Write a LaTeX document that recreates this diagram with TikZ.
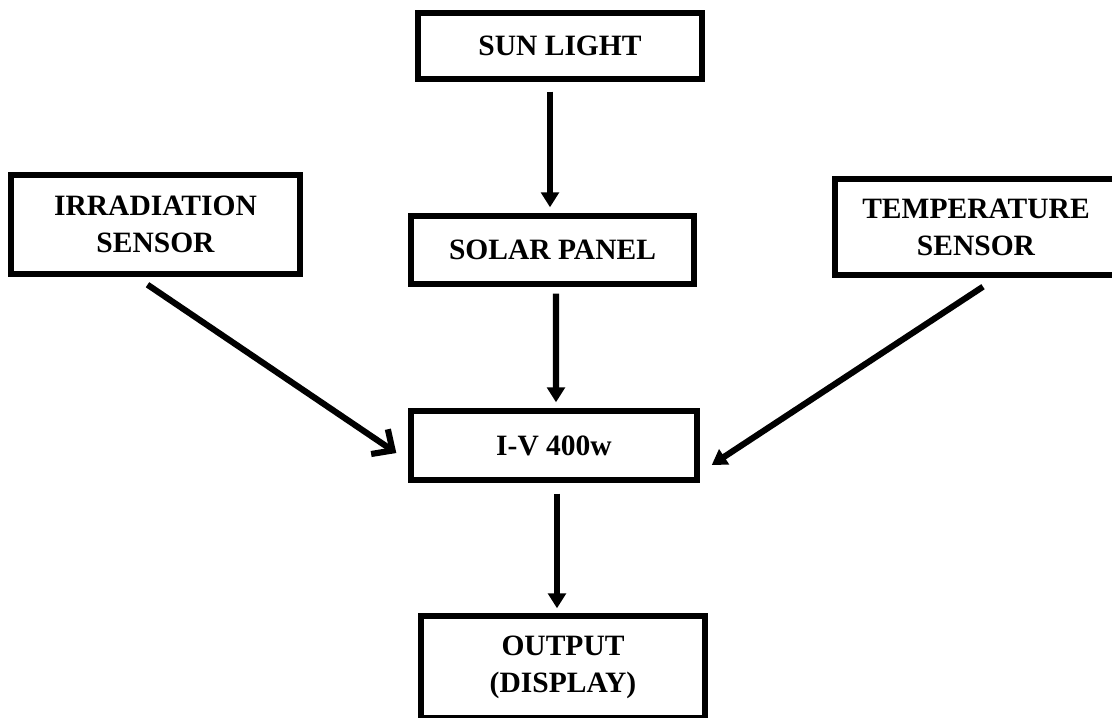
\documentclass[tikz,border=0pt]{standalone}
\usepackage{fontspec}
\setmainfont{Liberation Serif}
\usetikzlibrary{arrows.meta,calc}

\begin{document}
\begin{tikzpicture}[x=0.02cm, y=-0.02cm,
	blk/.style={draw, line width=3.1pt, inner sep=0pt, align=center, font=\fontsize{16.8}{21}\selectfont\bfseries},
	link/.style={line width=3.5pt, -{Triangle[length=8.5pt, width=10pt]}},
	barb/.style={line width=3.5pt, -{Straight Barb[length=9pt, width=17pt, line width=3.5pt]}}]
	\useasboundingbox (0,0) rectangle (1112,717);
	\node[blk, minimum width=5.68cm, minimum height=1.32cm] (sun) at (560,46) {SUN LIGHT};
	\node[blk, minimum width=5.66cm, minimum height=1.36cm] (solar) at (552.5,250) {SOLAR PANEL};
	\node[blk, minimum width=5.78cm, minimum height=1.98cm] (irr) at (155.5,224.5) {IRRADIATION\\SENSOR};
	\node[blk, minimum width=5.64cm, minimum height=1.92cm] (temp) at (976,227) {TEMPERATURE\\SENSOR};
	\node[blk, minimum width=5.72cm, minimum height=1.38cm] (iv) at (554,445.5) {I-V 400w};
	\node[blk, minimum width=5.68cm, minimum height=2.04cm] (out) at (563,667) {OUTPUT\\(DISPLAY)};
	\draw[link] ($(sun.south)+(-10,10)$) -- ($(solar.north)+(-2.5,-6)$);
	\draw[link] ($(solar.south)+(3.5,7)$) -- ($(iv.north)+(2,-6)$);
	\draw[link] ($(iv.south)+(3,11)$) -- ($(out.north)+(-6,-5)$);
	\draw[barb] ($(irr.south)+(-8,8)$) -- ($(iv.west)+(-12,7.5)$);
	\draw[link] ($(temp.south)+(7,9)$) -- ($(iv.east)+(12,19.5)$);
\end{tikzpicture}
\end{document}
